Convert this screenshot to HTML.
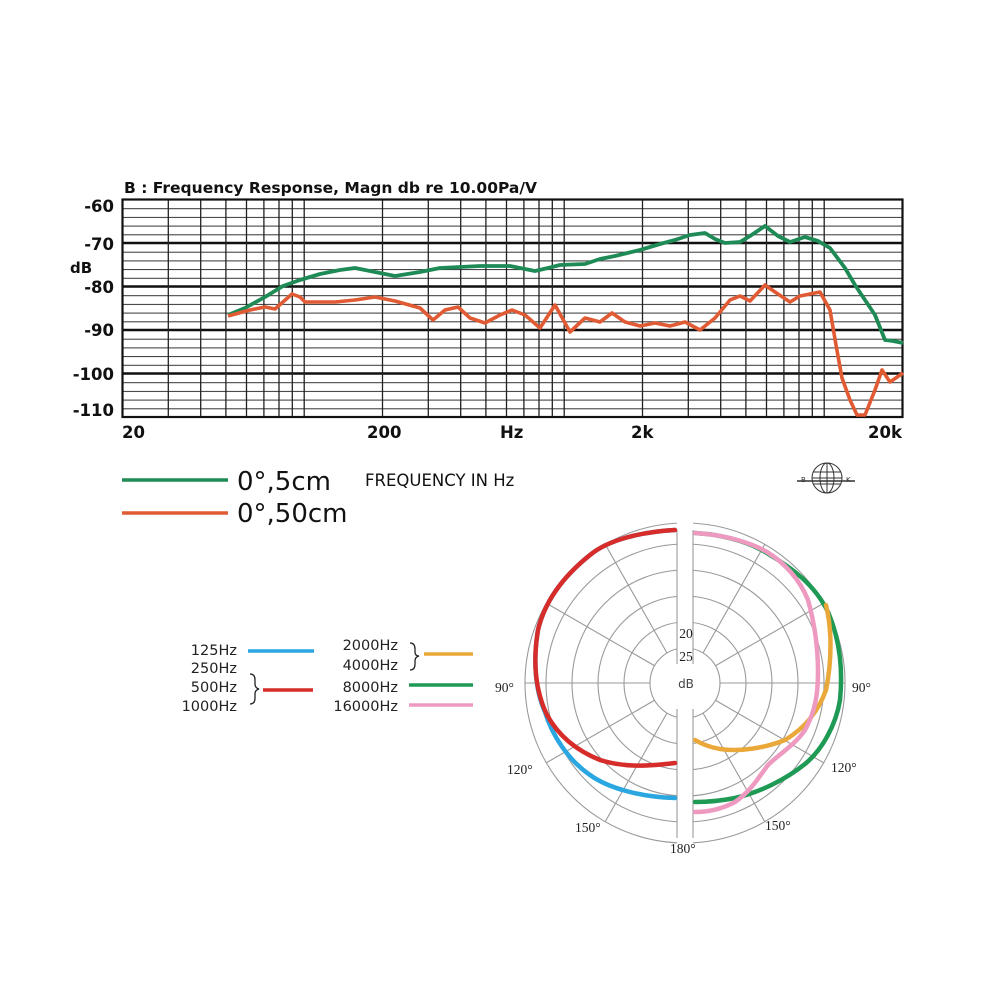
<!DOCTYPE html>
<html><head><meta charset="utf-8"><style>
html,body{margin:0;padding:0;background:#fff;width:1000px;height:1000px;overflow:hidden}
svg{display:block}
.s{font-family:"DejaVu Sans","Liberation Sans",sans-serif}
.r{font-family:"Liberation Serif",serif}
</style></head><body>
<svg width="1000" height="1000" viewBox="0 0 1000 1000" xmlns="http://www.w3.org/2000/svg">
<defs>
<pattern id="hp" x="0" y="199.5" width="10" height="8.7" patternUnits="userSpaceOnUse">
<line x1="0" y1="0.5" x2="10" y2="0.5" stroke="#333" stroke-width="1"/>
</pattern>
</defs>
<rect x="122.5" y="199.5" width="780" height="217.5" fill="url(#hp)"/>
<g stroke="#111" stroke-width="2.4">
<line x1="122.5" y1="243" x2="902.5" y2="243"/>
<line x1="122.5" y1="286.5" x2="902.5" y2="286.5"/>
<line x1="122.5" y1="330" x2="902.5" y2="330"/>
<line x1="122.5" y1="373.5" x2="902.5" y2="373.5"/>
</g>
<g stroke="#222" stroke-width="1.3">
<path d="M168.3 199.5V417M200.7 199.5V417M225.9 199.5V417M246.5 199.5V417M263.9 199.5V417M279 199.5V417M292.3 199.5V417M304.2 199.5V417M382.5 199.5V417M428.3 199.5V417M460.7 199.5V417M485.9 199.5V417M506.5 199.5V417M523.9 199.5V417M539 199.5V417M552.3 199.5V417M564.2 199.5V417M642.5 199.5V417M688.3 199.5V417M720.7 199.5V417M745.9 199.5V417M766.5 199.5V417M783.9 199.5V417M799 199.5V417M812.3 199.5V417M824.2 199.5V417"/>
</g>
<rect x="122.5" y="199.5" width="780" height="217.5" fill="none" stroke="#111" stroke-width="2.2"/>
<polyline fill="none" stroke="#1e8a55" stroke-width="3.8" stroke-linejoin="round" points="228,315 245,308 265,297 283,286 300,280 320,274 340,270 355,268 375,272 395,276 420,272 440,268 460,267 480,266 510,266 535,271 548,268 560,265 585,264 600,259 615,256 640,250 660,244 675,240 690,235 705,233 715,239 725,243 740,242 750,236 765,226 778,236 790,242 805,237 818,241 830,248 845,268 855,285 865,300 875,315 885,340 893,341 903,343"/>
<polyline fill="none" stroke="#e05a33" stroke-width="3.6" stroke-linejoin="round" points="228,316 250,310 265,307 275,309 292,294 300,297 305,302 335,302 355,300 375,297 385,299 395,301 420,308 433,320 445,310 458,307 470,318 485,323 500,315 512,310 525,315 540,328 555,305 570,332 585,318 600,322 612,313 625,322 640,326 655,323 670,326 685,322 700,330 715,318 730,300 740,296 750,301 765,285 775,292 790,302 800,296 820,292 830,310 836,345 842,378 850,400 857,415 865,415 875,390 882,370 890,382 903,373"/>
<text x="124" y="193" class="s" font-size="15.5" font-weight="bold" fill="#111">B : Frequency Response, Magn db re 10.00Pa/V</text>
<g class="s" font-size="16.5" font-weight="bold" fill="#111" text-anchor="end">
<text x="114" y="212">-60</text>
<text x="114" y="250">-70</text>
<text x="114" y="293">-80</text>
<text x="114" y="336">-90</text>
<text x="114" y="380">-100</text>
<text x="114" y="416">-110</text>
</g>
<text x="70" y="273" class="s" font-size="15" font-weight="bold" fill="#111">dB</text>
<g class="s" font-size="16.5" font-weight="bold" fill="#111">
<text x="122" y="438">20</text>
<text x="367" y="438">200</text>
<text x="500" y="438">Hz</text>
<text x="631" y="438">2k</text>
<text x="868" y="438">20k</text>
</g>
<line x1="122" y1="480" x2="228" y2="480" stroke="#1e8a55" stroke-width="3.5"/>
<line x1="122" y1="513" x2="228" y2="513" stroke="#e05a33" stroke-width="3.5"/>
<text x="237" y="490" class="s" font-size="26" fill="#111">0°,5cm</text>
<text x="237" y="522" class="s" font-size="26" fill="#111">0°,50cm</text>
<text x="365" y="486" class="s" font-size="16.5" fill="#111">FREQUENCY IN Hz</text>
<g transform="translate(827,478)" stroke="#333" fill="none" stroke-width="1">
<circle r="15"/><ellipse rx="7" ry="15"/><line x1="0" y1="-15" x2="0" y2="15"/>
<line x1="-14" y1="-6" x2="14" y2="-6"/><line x1="-15" y1="0" x2="15" y2="0"/><line x1="-14" y1="6" x2="14" y2="6"/>
<line x1="-30" y1="3" x2="28" y2="3" stroke-width="1.5"/>
</g>
<text x="801" y="482" class="s" font-size="7" fill="#333">B</text>
<text x="846" y="482" class="s" font-size="7" fill="#333">K</text>

<g stroke="#9a9a9a" stroke-width="1.1" fill="none">
<circle cx="685" cy="683" r="61"/><circle cx="685" cy="683" r="87"/><circle cx="685" cy="683" r="113"/><circle cx="685" cy="683" r="139"/><circle cx="685" cy="683" r="160"/>
<circle cx="685" cy="683" r="35"/>
<path d="M685 683m-160 0h125M720 683h125"/>
<path d="M655 700L546 763M715 700L824 763M667 713L605 822M703 713L765 822M655 666L546 603M715 666L824 603M667 653L605 544M703 653L765 544"/>
</g>
<rect x="677" y="520" width="16" height="340" fill="#fff"/>
<g stroke="#9a9a9a" stroke-width="1.1">
<line x1="677" y1="530" x2="677" y2="664"/><line x1="693" y1="530" x2="693" y2="664"/>
<line x1="677" y1="709" x2="677" y2="838"/><line x1="693" y1="709" x2="693" y2="838"/>
</g>
<g fill="none" stroke-width="4.5" stroke-linecap="round" stroke-linejoin="round">
<path stroke="#2aa6e0" d="M675 530C640 532 608 540 590 555C565 575 545 600 538 630C533 660 535 690 545 712C552 735 568 760 590 775C608 788 640 797 675 798"/>
<path stroke="#d62c2a" d="M675 530C640 532 608 540 590 555C565 575 545 600 538 630C533 660 535 690 547 715C558 735 575 750 600 760C625 768 650 766 675 763"/>
<path stroke="#1e9a55" d="M695 533C730 535 755 545 770 555C792 568 815 585 828 612C840 640 843 670 840 700C836 725 822 750 805 764C785 780 760 792 735 798C720 801 705 802 695 802"/>
<path stroke="#eaa83a" d="M826 605C832 630 832 660 826 690C818 712 805 728 785 740C765 748 740 752 720 749C708 747 700 743 695 740"/>
<path stroke="#ee9ac0" d="M695 533C730 535 755 545 767 552C785 563 800 580 808 600C815 625 818 650 818 672C818 695 815 712 805 730C795 745 778 755 768 765C758 778 752 790 735 802C720 810 705 812 695 812"/>
</g>
<g class="r" font-size="13.5" fill="#222">
<text x="686" y="638" text-anchor="middle">20</text>
<text x="686" y="661" text-anchor="middle">25</text>
<text x="686" y="688" text-anchor="middle" class="s" font-size="12" fill="#444">dB</text>
<text x="495" y="692">90°</text>
<text x="852" y="692">90°</text>
<text x="507" y="774">120°</text>
<text x="831" y="772">120°</text>
<text x="575" y="832">150°</text>
<text x="765" y="830">150°</text>
<text x="670" y="853">180°</text>
</g>
<g class="s" font-size="14.5" fill="#222" text-anchor="end">
<text x="237" y="655">125Hz</text>
<text x="237" y="673">250Hz</text>
<text x="237" y="692">500Hz</text>
<text x="237" y="711">1000Hz</text>
<text x="398" y="650">2000Hz</text>
<text x="398" y="670">4000Hz</text>
<text x="398" y="692">8000Hz</text>
<text x="398" y="711">16000Hz</text>
</g>
<g fill="none" stroke="#222" stroke-width="1.3">
<path d="M250 674q5 0 5 6v4q0 4 4 5q-4 1 -4 5v4q0 6 -5 6"/>
<path d="M410 643q5 0 5 6v3q0 4 4 4q-4 1 -4 5v3q0 6 -5 6"/>
</g>
<g stroke-width="3.5">
<line x1="248" y1="651" x2="314" y2="651" stroke="#2aa6e0"/>
<line x1="263" y1="690" x2="313" y2="690" stroke="#d62c2a"/>
<line x1="424" y1="654" x2="473" y2="654" stroke="#eaa83a"/>
<line x1="409" y1="685" x2="473" y2="685" stroke="#1e9a55"/>
<line x1="409" y1="705" x2="473" y2="705" stroke="#ee9ac0"/>
</g>
</svg>
</body></html>
